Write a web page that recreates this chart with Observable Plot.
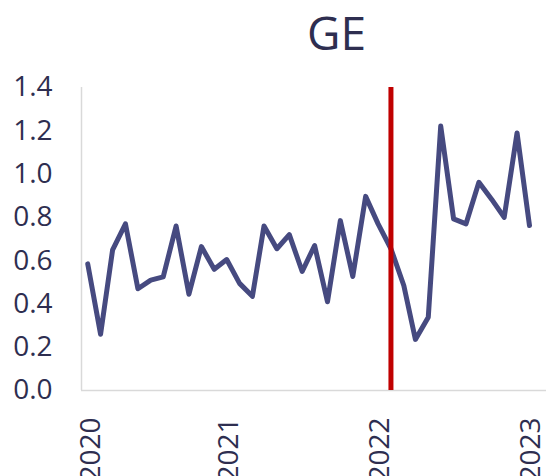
<!DOCTYPE html>
<html><head><meta charset="utf-8">
<script src="https://cdn.jsdelivr.net/npm/d3@7"></script>
<script src="https://cdn.jsdelivr.net/npm/@observablehq/plot@0.6"></script>
<style>html,body{margin:0;padding:0;background:#fff;overflow:hidden} svg{display:block}</style>
</head><body><div id="chart"></div>
<script>
const title = "GE";
const startMonth = "2020-01-01";
const values = [0.585, 0.26, 0.65, 0.77, 0.47, 0.51, 0.525, 0.76, 0.445, 0.665, 0.56, 0.605,
                0.495, 0.435, 0.76, 0.655, 0.72, 0.55, 0.67, 0.41, 0.785, 0.527, 0.897, 0.77,
                0.655, 0.485, 0.236, 0.339, 1.222, 0.793, 0.77, 0.962, 0.883, 0.80, 1.19, 0.762];
const yTicks = [0, 0.2, 0.4, 0.6, 0.8, 1.0, 1.2, 1.4];
const yearTicks = [2020, 2021, 2022, 2023];
const markerDate = "2022-01-01";

const start = new Date(startMonth);
const months = d3.utcMonth.range(start, d3.utcMonth.offset(start, values.length));
const data = values.map((v, i) => ({date: months[i], value: v}));
const yearDates = yearTicks.map(y => new Date(Date.UTC(y, 0, 1)));
const ink = "#2e2e50";
const axisStyle = {tickSize: 0, tickPadding: 27, tickRotate: -90, tickFormat: d3.utcFormat("%Y"), fontSize: 28, label: null};

const chart = Plot.plot({
  width: 546, height: 476,
  marginLeft: 81, marginRight: 0, marginTop: 87, marginBottom: 86,
  style: {fontFamily: "'Open Sans', sans-serif", fontSize: "28px", color: ink, background: "#fff", overflow: "hidden"},
  x: {type: "utc", domain: [new Date("2019-12-17"), new Date("2023-01-11")], axis: null},
  y: {domain: [0, 1.4], axis: null},
  marks: [
    Plot.axisY(yTicks, {tickSize: 0, tickPadding: 29, tickFormat: d => d.toFixed(1), fontSize: 28, label: null}),
    Plot.axisX(yearDates.slice(0, 1), {...axisStyle, dx: 3}),
    Plot.axisX(yearDates.slice(1), {...axisStyle, dx: -11}),
    Plot.ruleX([new Date("2019-12-17")], {stroke: "#d9d9d9", strokeWidth: 1.5}),
    Plot.ruleY([0], {stroke: "#d9d9d9", strokeWidth: 1.5}),
    Plot.line(data, {x: "date", y: "value", stroke: "#464a80", strokeWidth: 5, strokeLinejoin: "round", strokeLinecap: "round"}),
    Plot.ruleX([new Date(markerDate)], {stroke: "#c00000", strokeWidth: 5}),
    Plot.text([title], {frameAnchor: "top", dx: 22.5, dy: -38, lineAnchor: "bottom", fontSize: 46, fill: ink})
  ]
});
document.getElementById("chart").appendChild(chart);
</script>
</body></html>
